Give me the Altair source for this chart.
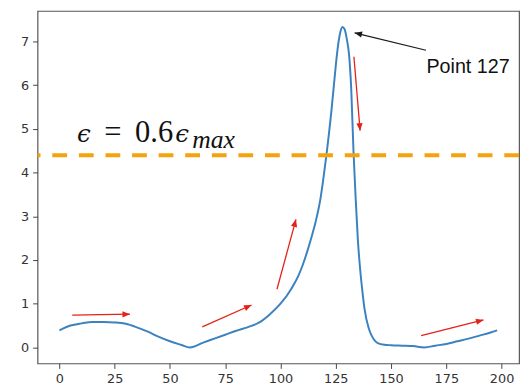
import math
import altair as alt
import pandas as pd

# ---- data ----
xs = [0, 5, 10, 15, 20, 25, 30, 35, 40, 45, 50, 55, 59, 65, 70, 75, 80, 85, 90, 95,
      100, 105, 108, 110, 112, 114, 116, 117, 118, 119, 120, 121, 122, 123, 124, 125,
      126, 127, 128, 129, 130, 131, 132, 133, 134, 135, 136, 137, 138, 140, 142, 144,
      147, 150, 155, 160, 165, 170, 175, 180, 185, 190, 195, 198]
ys = [0.39, 0.50, 0.55, 0.58, 0.58, 0.57, 0.54, 0.46, 0.36, 0.24, 0.14, 0.06, 0.0,
      0.11, 0.20, 0.29, 0.38, 0.46, 0.56, 0.75, 1.0, 1.35, 1.63, 1.88, 2.18, 2.52,
      2.9, 3.12, 3.38, 3.72, 4.1, 4.5, 4.93, 5.4, 5.92, 6.45, 6.9, 7.2, 7.33, 7.28,
      7.05, 6.7, 5.9, 4.5, 3.4, 2.45, 1.8, 1.3, 0.88, 0.42, 0.2, 0.1, 0.06, 0.05,
      0.04, 0.03, 0.0, 0.04, 0.08, 0.14, 0.2, 0.27, 0.34, 0.39]
threshold = 0.6 * max(ys)

arrow_x1 = [5.8, 64.6, 98.4, 133.2, 163.6, 165.8]
arrow_y1 = [0.74, 0.47, 1.33, 6.65, 0.27, 6.8]
arrow_x2 = [31.9, 86.9, 107.0, 136.0, 191.8, 133.5]
arrow_y2 = [0.76, 0.97, 2.93, 4.96, 0.63, 7.2]
arrow_col = ["#e32219", "#e32219", "#e32219", "#e32219", "#e32219", "#1a1a1a"]

eq_text = ["=", "0.6"]
eq_x = [20.3, 34.2]
eq_y = [4.70, 4.70]
eps_text = ["ϵ", "ϵ"]
eps_x = [7.9, 52.4]
eps_y = [4.70, 4.70]
sub_text = ["max"]
sub_x = [60.1]
sub_y = [4.57]

point_label = ["Point 127"]
point_x = [166.0]
point_y = [6.28]

x_ticks = [0, 25, 50, 75, 100, 125, 150, 175, 200]
y_ticks = [0, 1, 2, 3, 4, 5, 6, 7]

# ---- layout ----
W, H = 489, 358
xdom = [-9.9, 207.9]
ydom = [-0.367, 7.70]
sx = W / (xdom[1] - xdom[0])
sy = H / (ydom[1] - ydom[0])

xscale = alt.Scale(domain=xdom, nice=False, zero=False)
yscale = alt.Scale(domain=ydom, nice=False, zero=False)

curve = pd.DataFrame({"x": xs, "y": ys})
arrows = pd.DataFrame({"x": arrow_x1, "y": arrow_y1, "x2": arrow_x2, "y2": arrow_y2,
                       "c": arrow_col})
arrows["ang"] = [
    math.degrees(math.atan2(-(b2 - b1) * sy, (a2 - a1) * sx)) % 360
    for a1, b1, a2, b2 in zip(arrow_x1, arrow_y1, arrow_x2, arrow_y2)
]

axis_style = dict(title=None, grid=False, domain=False, tickSize=5, labelPadding=4,
                  labelFontSize=13, labelColor="#333", tickColor="#444",
                  labelFlush=False, labelFont="DejaVu Sans")
xenc = alt.X("x:Q", scale=xscale, axis=alt.Axis(values=x_ticks, **axis_style))
yenc = alt.Y("y:Q", scale=yscale, axis=alt.Axis(values=y_ticks, **axis_style))

line = alt.Chart(curve).mark_line(color="#3b82bf", strokeWidth=2,
                                  interpolate="monotone").encode(x=xenc, y=yenc)

thr = alt.Chart(pd.DataFrame({"y": [threshold]})).mark_rule(
    color="#f5a20f", strokeWidth=4, strokeDash=[15, 12]
).encode(y=alt.Y("y:Q", scale=yscale))

shafts = alt.Chart(arrows).mark_rule(strokeWidth=1.3).encode(
    x=alt.X("x:Q", scale=xscale), y=alt.Y("y:Q", scale=yscale),
    x2="x2:Q", y2="y2:Q", color=alt.Color("c:N", scale=None))

heads = alt.Chart(arrows).mark_point(
    shape="M0,0 L-1,-0.42 L-1,0.42 Z", filled=True, size=230, opacity=1
).encode(x=alt.X("x2:Q", scale=xscale), y=alt.Y("y2:Q", scale=yscale),
         color=alt.Color("c:N", scale=None), angle=alt.Angle("ang:Q", scale=None))

eq = alt.Chart(pd.DataFrame({"t": eq_text, "x": eq_x, "y": eq_y})).mark_text(
    font="Liberation Serif", fontSize=31, align="left", baseline="alphabetic",
    color="#111"
).encode(x=alt.X("x:Q", scale=xscale), y=alt.Y("y:Q", scale=yscale), text="t:N")

eps = alt.Chart(pd.DataFrame({"t": eps_text, "x": eps_x, "y": eps_y})).mark_text(
    font="DejaVu Serif", fontSize=25, fontStyle="italic", fontWeight="normal",
    align="left", baseline="alphabetic", color="#111"
).encode(x=alt.X("x:Q", scale=xscale), y=alt.Y("y:Q", scale=yscale), text="t:N")

sub = alt.Chart(pd.DataFrame({"t": sub_text, "x": sub_x, "y": sub_y})).mark_text(
    font="Liberation Serif", fontSize=26, fontStyle="italic", align="left",
    baseline="alphabetic", color="#111"
).encode(x=alt.X("x:Q", scale=xscale), y=alt.Y("y:Q", scale=yscale), text="t:N")

plabel = alt.Chart(pd.DataFrame({"t": point_label, "x": point_x, "y": point_y})).mark_text(
    font="Liberation Sans", fontSize=20, align="left", baseline="alphabetic",
    color="#111"
).encode(x=alt.X("x:Q", scale=xscale), y=alt.Y("y:Q", scale=yscale), text="t:N")

chart = alt.layer(line, thr, shafts, heads, eq, eps, sub, plabel).properties(
    width=W, height=H,
    autosize=alt.AutoSizeParams(type="none"),
    padding={"left": 30, "top": 0, "right": 4, "bottom": 24},
    background="white",
).configure_view(stroke="#555", strokeWidth=1.2)

chart.save("out.html", embed_options={"renderer": "svg", "actions": False})
